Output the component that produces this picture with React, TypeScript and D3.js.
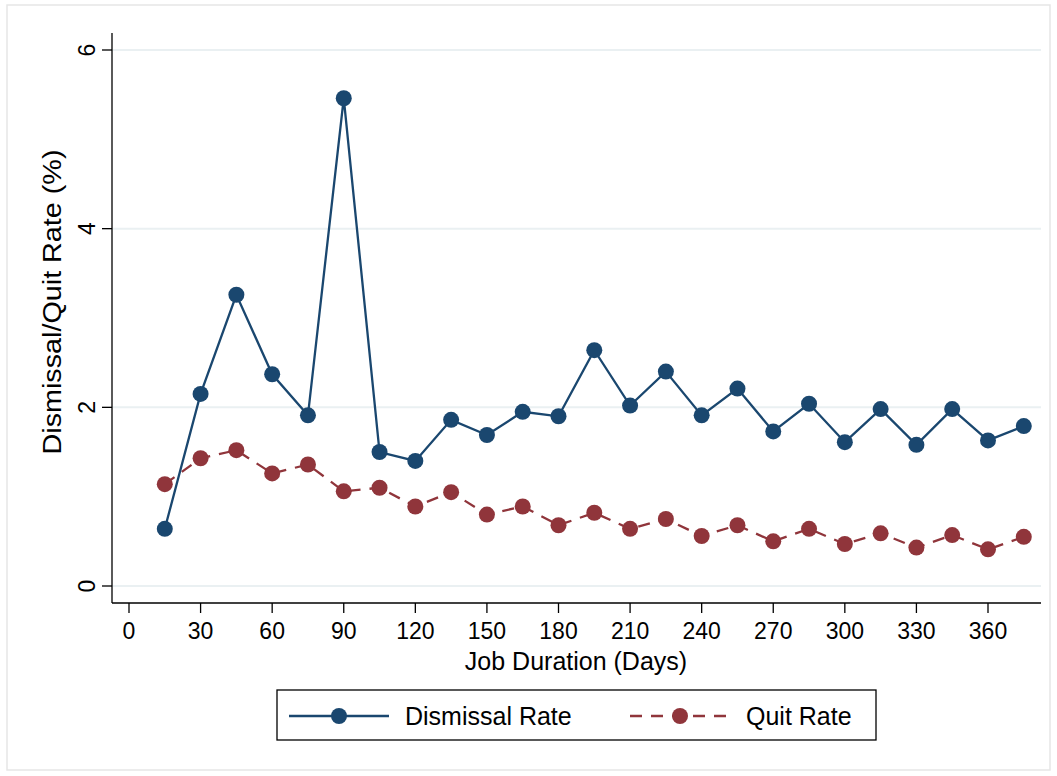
import React from "react";
import * as d3 from "d3";

const days = [15, 30, 45, 60, 75, 90, 105, 120, 135, 150, 165, 180, 195, 210, 225, 240, 255, 270, 285, 300, 315, 330, 345, 360, 375];
const dismissalRate = [0.64, 2.15, 3.26, 2.37, 1.91, 5.46, 1.50, 1.40, 1.86, 1.69, 1.95, 1.90, 2.64, 2.02, 2.40, 1.91, 2.21, 1.73, 2.04, 1.61, 1.98, 1.58, 1.98, 1.63, 1.79];
const quitRate = [1.14, 1.43, 1.52, 1.26, 1.36, 1.06, 1.10, 0.89, 1.05, 0.80, 0.89, 0.68, 0.82, 0.64, 0.75, 0.56, 0.68, 0.50, 0.64, 0.47, 0.59, 0.43, 0.57, 0.41, 0.55];
const xTicks = [0, 30, 60, 90, 120, 150, 180, 210, 240, 270, 300, 330, 360];
const yTicks = [0, 2, 4, 6];

const W = 1057, H = 776;
const BLUE = "#1a476f";
const RED = "#90353b";
const FONT = "'Liberation Sans', Arial, Helvetica, sans-serif";

export default function App() {
  const x = d3.scaleLinear().domain([0, 360]).range([129, 988]);
  const y = d3.scaleLinear().domain([0, 6]).range([586, 50]);
  const axX0 = 112, axX1 = 1041, axY = 603, axYTop = 33;

  const line = d3.line<number>().x((_, i) => x(days[i])).y((v) => y(v));

  return (
    <div style={{ position: "absolute", left: 0, top: 0 }}>
      <svg width={W} height={H} style={{ display: "block", fontFamily: FONT }}>
        <rect x={0} y={0} width={W} height={H} fill="#fff" />
        <rect x={7} y={5} width={1043} height={765} fill="#fff" stroke="#e6e6e6" strokeWidth={1.5} />
        {/* gridlines */}
        {yTicks.map((t) => (
          <line key={"g" + t} x1={axX0} x2={axX1} y1={y(t)} y2={y(t)} stroke="#eaf0f2" strokeWidth={2} />
        ))}
        {/* axes */}
        <line x1={axX0} x2={axX0} y1={axYTop} y2={axY} stroke="#000" strokeWidth={1.3} />
        <line x1={axX0} x2={axX1} y1={axY} y2={axY} stroke="#000" strokeWidth={1.3} />
        {yTicks.map((t) => (
          <g key={"yt" + t}>
            <line x1={axX0 - 10} x2={axX0} y1={y(t)} y2={y(t)} stroke="#000" strokeWidth={1.3} />
            <text
              transform={`translate(${95},${y(t)}) rotate(-90)`}
              textAnchor="middle"
              fontSize={23}
              fill="#000"
            >
              {t}
            </text>
          </g>
        ))}
        {xTicks.map((t) => (
          <g key={"xt" + t}>
            <line x1={x(t)} x2={x(t)} y1={axY} y2={axY + 10} stroke="#000" strokeWidth={1.3} />
            <text x={x(t)} y={639} textAnchor="middle" fontSize={23} fill="#000">
              {t}
            </text>
          </g>
        ))}
        <text x={576} y={670} textAnchor="middle" fontSize={25} fill="#000">
          Job Duration (Days)
        </text>
        <text
          transform={`translate(61,302) rotate(-90)`}
          textAnchor="middle"
          fontSize={25}
          textLength={305}
          lengthAdjust="spacingAndGlyphs"
          fill="#000"
        >
          Dismissal/Quit Rate (%)
        </text>
        {/* series */}
        <path d={line(quitRate) || ""} fill="none" stroke={RED} strokeWidth={2.3} strokeDasharray="12 9" />
        <path d={line(dismissalRate) || ""} fill="none" stroke={BLUE} strokeWidth={2.3} />
        {quitRate.map((v, i) => (
          <circle key={"q" + i} cx={x(days[i])} cy={y(v)} r={8} fill={RED} />
        ))}
        {dismissalRate.map((v, i) => (
          <circle key={"d" + i} cx={x(days[i])} cy={y(v)} r={8} fill={BLUE} />
        ))}
        {/* legend */}
        <rect x={277} y={690} width={599} height={50} fill="#fff" stroke="#000" strokeWidth={1.3} />
        <line x1={289} x2={389} y1={716} y2={716} stroke={BLUE} strokeWidth={2.3} />
        <circle cx={339} cy={716} r={8} fill={BLUE} />
        <text x={405} y={725} fontSize={25} fill="#000">Dismissal Rate</text>
        <line x1={630} x2={730} y1={716} y2={716} stroke={RED} strokeWidth={2.3} strokeDasharray="12 9" />
        <circle cx={680} cy={716} r={8} fill={RED} />
        <text x={746} y={725} fontSize={25} fill="#000">Quit Rate</text>
      </svg>
    </div>
  );
}
